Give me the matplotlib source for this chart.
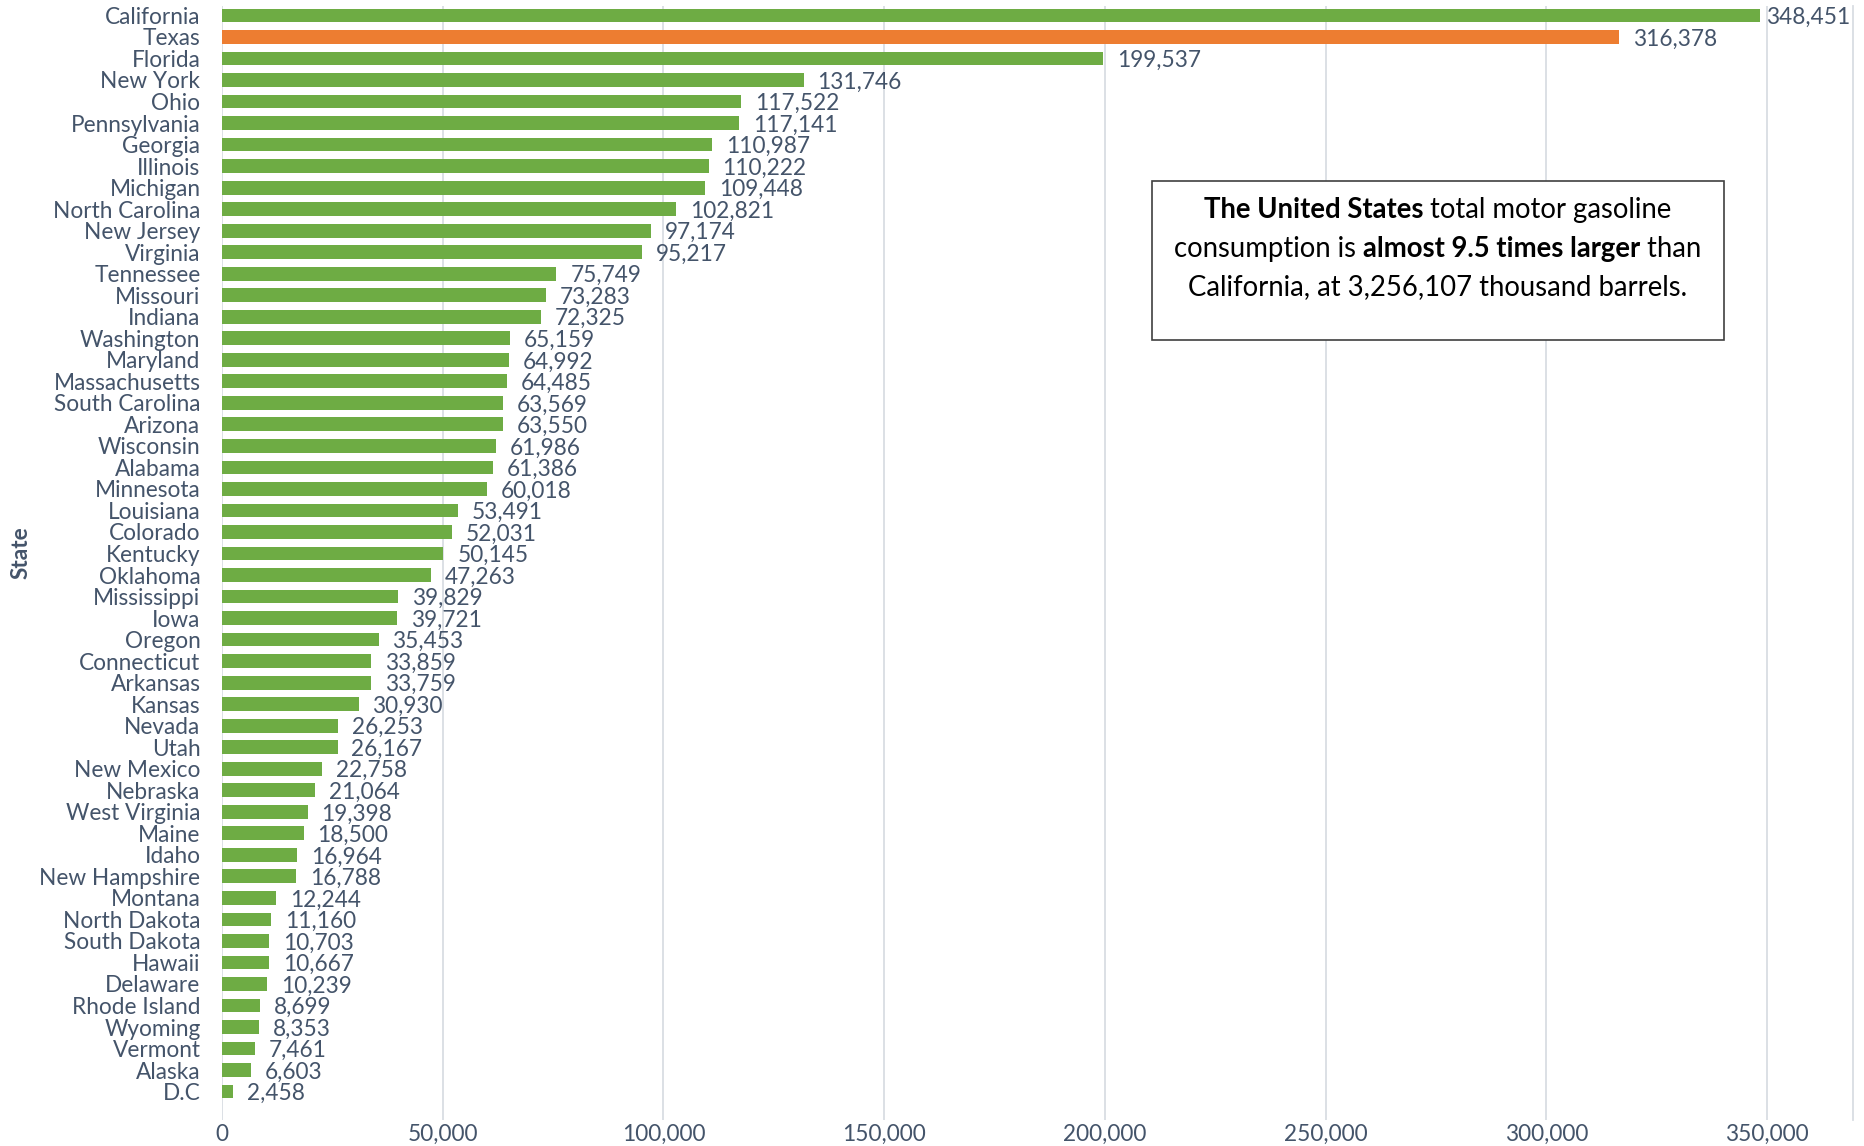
import matplotlib
matplotlib.use("Agg")
import matplotlib.pyplot as plt
from matplotlib.ticker import FuncFormatter

plt.rcParams["font.family"] = ["Lato", "DejaVu Sans"]

states = ["California", "Texas", "Florida", "New York", "Ohio", "Pennsylvania", "Georgia",
          "Illinois", "Michigan", "North Carolina", "New Jersey", "Virginia", "Tennessee",
          "Missouri", "Indiana", "Washington", "Maryland", "Massachusetts", "South Carolina",
          "Arizona", "Wisconsin", "Alabama", "Minnesota", "Louisiana", "Colorado", "Kentucky",
          "Oklahoma", "Mississippi", "Iowa", "Oregon", "Connecticut", "Arkansas", "Kansas",
          "Nevada", "Utah", "New Mexico", "Nebraska", "West Virginia", "Maine", "Idaho",
          "New Hampshire", "Montana", "North Dakota", "South Dakota", "Hawaii", "Delaware",
          "Rhode Island", "Wyoming", "Vermont", "Alaska", "D.C"]
consumption = [348451, 316378, 199537, 131746, 117522, 117141, 110987, 110222, 109448,
               102821, 97174, 95217, 75749, 73283, 72325, 65159, 64992, 64485, 63569,
               63550, 61986, 61386, 60018, 53491, 52031, 50145, 47263, 39829, 39721,
               35453, 33859, 33759, 30930, 26253, 26167, 22758, 21064, 19398, 18500,
               16964, 16788, 12244, 11160, 10703, 10667, 10239, 8699, 8353, 7461, 6603, 2458]
highlight = "Texas"
x_ticks = [0, 50000, 100000, 150000, 200000, 250000, 300000, 350000]

TEXT = "#44546A"
GREEN = "#6EAC44"
ORANGE = "#ED7D31"
GRID = "#D9DDE3"
FS = 16.3

fig = plt.figure(figsize=(18.64, 11.46), dpi=100)
ax = fig.add_axes([0.1191, 0.0227, 0.9941 - 0.1191, 0.9948 - 0.0227])

pos = list(range(len(states)))
colors = [ORANGE if s == highlight else GREEN for s in states]
bars = ax.barh(pos, consumption, height=0.64, color=colors, zorder=3)

for i, (b, v) in enumerate(zip(bars, consumption)):
    # the longest bar's label sits closer to its bar to fit in the plot area
    dx = 4 if i == 0 else 10
    ax.annotate(f"{v:,}", (b.get_width(), b.get_y() + b.get_height() / 2),
                xytext=(dx, -1.5), textcoords="offset points", ha="left", va="center",
                fontsize=FS, color=TEXT)

ax.set_xlim(0, 369466)
ax.set_ylim(51.32, -0.44)
ax.set_yticks(pos)
ax.set_yticklabels(states)
ax.set_xticks(x_ticks)
ax.xaxis.set_major_formatter(FuncFormatter(lambda v, p: f"{int(v):,}"))
ax.tick_params(axis="y", length=0, pad=15.5, labelsize=FS, labelcolor=TEXT)
ax.tick_params(axis="x", length=0, pad=3, labelsize=FS, labelcolor=TEXT)
ax.grid(axis="x", color=GRID, linewidth=1.3, zorder=0)
for side in ["top", "left", "bottom"]:
    ax.spines[side].set_visible(False)
ax.spines["right"].set_color(GRID)
ax.spines["right"].set_linewidth(1.3)

fig.text(21 / 1864, 1 - 553 / 1146, "State", rotation=90, ha="center", va="center",
         fontsize=FS, fontweight="bold", color=TEXT)

# annotation box with mixed bold text
box_l, box_r, box_t, box_b = 1151.5, 1723.5, 181.5, 339.5
W, H = 1864, 1146
fig.patches.append(plt.Rectangle((box_l / W, 1 - box_b / H), (box_r - box_l) / W,
                                 (box_b - box_t) / H, transform=fig.transFigure,
                                 facecolor="white", edgecolor="#404040", linewidth=1.2,
                                 zorder=5))
lines = [
    [("The United States", True), (" total motor gasoline", False)],
    [("consumption is ", False), ("almost 9.5 times larger", True), (" than", False)],
    [("California, at 3,256,107 thousand barrels.", False)],
]
line_y = [210, 249, 287]
cx = (box_l + box_r) / 2
renderer = fig.canvas.get_renderer()
for parts, yy in zip(lines, line_y):
    texts = []
    for s, bold in parts:
        t = fig.text(0, 1 - yy / H, s, fontsize=19.8, color="black",
                     fontweight="bold" if bold else "normal", ha="left", va="center", zorder=6)
        texts.append(t)
    widths = [t.get_window_extent(renderer).width for t in texts]
    x = cx - sum(widths) / 2
    for t, w in zip(texts, widths):
        t.set_x(x / W)
        x += w

fig.savefig("out.png", dpi=100)
